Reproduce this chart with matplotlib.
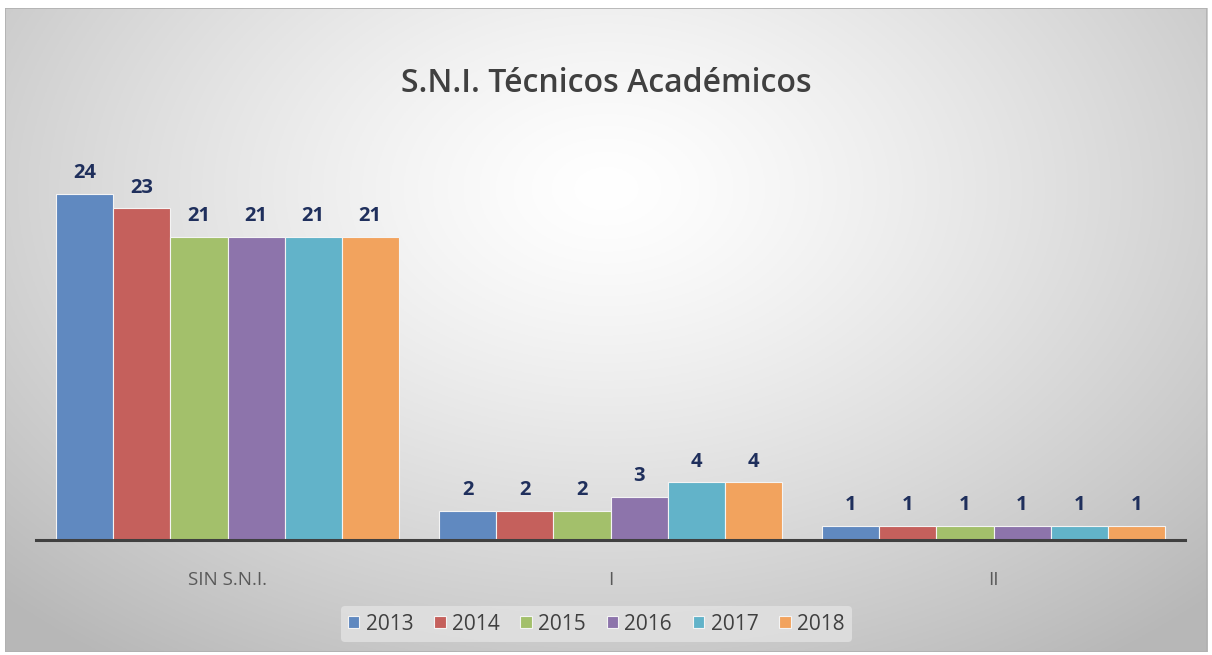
import numpy as np
import matplotlib
matplotlib.use("Agg")
import matplotlib.pyplot as plt
from matplotlib.patches import Rectangle

categorias = ["SIN S.N.I.", "I", "II"]
anios = ["2013", "2014", "2015", "2016", "2017", "2018"]
v2013 = [24, 2, 1]
v2014 = [23, 2, 1]
v2015 = [21, 2, 1]
v2016 = [21, 3, 1]
v2017 = [21, 4, 1]
v2018 = [21, 4, 1]
series = [v2013, v2014, v2015, v2016, v2017, v2018]
colores = ["#6089c0", "#c5605c", "#a3c06b", "#8d74ab", "#62b3c9", "#f2a35e"]

fig = plt.figure(figsize=(12.12, 6.55), dpi=100)
fig.patch.set_facecolor("white")

# fondo con degradado radial
bg = fig.add_axes([0.004, 0.005, 0.992, 0.983])
yy, xx = np.mgrid[0:1:300j, 0:1:600j]
d = np.sqrt(((xx - 0.5) / 0.75) ** 2 + ((yy - 0.28) / 0.95) ** 2)
g = np.clip(1.0 - 0.30 * d ** 1.3, 0.72, 1.0)
bg.imshow(np.dstack([g, g, g]), aspect="auto", extent=[0, 1, 1, 0])
bg.set_xlim(0, 1)
bg.set_ylim(1, 0)
bg.axis("off")
bg.add_patch(Rectangle((0, 0), 1, 1, transform=bg.transAxes, fill=False,
                       edgecolor="#b0b0b0", lw=1.2))

ax = fig.add_axes([36 / 1212, 1 - 540 / 655, 1149 / 1212, 390 / 655])
ax.patch.set_alpha(0)

x = np.arange(len(categorias))
ancho = 0.149
for i, (vals, c, a) in enumerate(zip(series, colores, anios)):
    pos = x + (i - 2.5) * ancho
    barras = ax.bar(pos, vals, ancho, color=c, edgecolor="#f4f4f4",
                    linewidth=0.8, label=a, zorder=2)
    for b, v in zip(barras, vals):
        ax.text(b.get_x() + b.get_width() / 2, v + 0.75, str(v),
                ha="center", va="bottom", fontsize=14.5, fontweight="bold",
                color="#1f2f5c", family="Open Sans")

ax.set_xlim(-0.5, 2.5)
ax.set_ylim(0, 27.05)
ax.set_yticks([])
ax.set_xticks(x)
ax.set_xticklabels(categorias, fontsize=13.5, color="#595959", family="Open Sans")
ax.tick_params(axis="x", length=0, pad=22)
for s in ["top", "right", "left"]:
    ax.spines[s].set_visible(False)
ax.spines["bottom"].set_color("#404040")
ax.spines["bottom"].set_linewidth(2.2)

fig.text(0.5, 1 - 83 / 655, "S.N.I. Técnicos Académicos", ha="center",
         va="center", fontsize=23, fontweight="semibold", color="#404040",
         family="Open Sans")

leg = fig.legend(loc="center", bbox_to_anchor=(0.492, 1 - 624 / 655), ncol=6,
                 frameon=True, handlelength=0.55, handleheight=0.55,
                 handletextpad=0.3, columnspacing=1.0, borderpad=0.35,
                 prop={"family": "Open Sans", "size": 15})
leg.get_frame().set_facecolor("#e2e2e2")
leg.get_frame().set_edgecolor("none")
leg.get_frame().set_alpha(0.8)
for t in leg.get_texts():
    t.set_color("#404040")

fig.savefig("out.png", dpi=100)
